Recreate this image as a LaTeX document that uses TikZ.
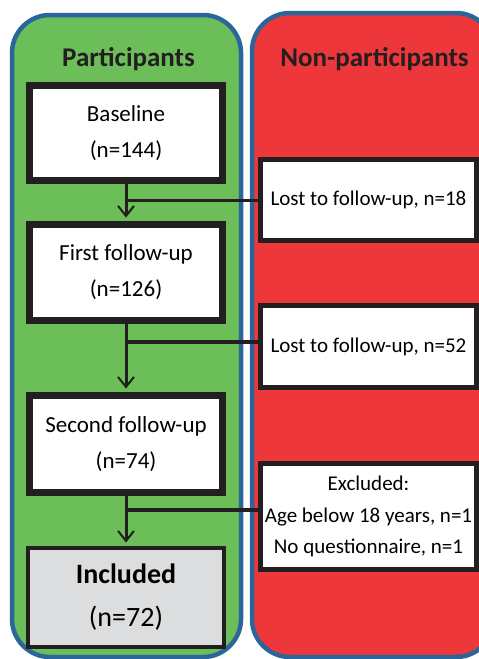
\documentclass[tikz,border=0pt]{standalone}
\usepackage{fontspec}
\setmainfont{Carlito}
\usetikzlibrary{arrows.meta}
\definecolor{pgreen}{HTML}{6CBE59}
\definecolor{pred}{HTML}{EE373B}
\definecolor{pblue}{HTML}{2A6699}
\definecolor{pgray}{HTML}{DCDDDE}
\definecolor{pblack}{HTML}{231F20}
\tikzset{
  panel/.style={draw=pblue, line width=4.5pt, rounded corners=38pt},
  mainbox/.style={draw=pblack, fill=white, line width=7pt, inner sep=0pt, align=center,
     minimum width=193pt, font=\fontsize{23}{36}\selectfont},
  sidebox/.style={draw=pblack, fill=white, line width=5pt, inner sep=0pt, align=center,
     minimum width=216pt, font=\fontsize{21}{31.5}\selectfont},
  header/.style={font=\bfseries\fontsize{27}{32}\selectfont, text=pblack, anchor=base},
  conn/.style={draw=pblack, line width=3pt, -{Straight Barb[length=10pt,width=16pt,line width=2pt]}, shorten >=3.5pt},
  link/.style={draw=pblack, line width=3.5pt}
}
\begin{document}
\begin{tikzpicture}[x=1pt,y=-1pt]
\useasboundingbox (0,0) rectangle (479,659);
\clip (0,0) rectangle (479,659);
\fill[white] (0,0) rectangle (479,659);
\draw[panel, fill=pgreen] (12,15) rectangle (241,657);
\draw[panel, fill=pred] (252,13) rectangle (494,657);
\node[header] (hp) at (128.5,66) {Participants};
\node[header] (hn) at (374.5,66) {Non-participants};

\node[mainbox, minimum height=95pt] (b0) at (126,133) {Baseline\\(n=144)};
\node[mainbox, minimum height=96pt] (b1) at (126,272.5) {First follow-up\\(n=126)};
\node[mainbox, minimum height=97pt] (b2) at (126,444) {Second follow-up\\(n=74)};
\node[draw=pblack, fill=pgray, line width=4pt, inner sep=0pt, align=center,
      minimum width=196pt, minimum height=99pt,
      font=\fontsize{28}{43}\selectfont] (b3) at (126,597.5) {\textbf{Included}\\(n=72)};

\node[sidebox, minimum height=81pt] (l1) at (368.5,200) {Lost to follow-up, n=18};
\node[sidebox, minimum height=82pt] (l2) at (368.5,346.5) {Lost to follow-up, n=52};
\node[sidebox, minimum height=106pt] (l3) at (368.5,516.5) {Excluded:\\Age below 18 years, n=1\\No questionnaire, n=1};

\draw[conn] (b0.south) -- (b1.north);
\draw[conn] (b1.south) -- (b2.north);
\draw[conn] (b2.south) -- (b3.north);

\coordinate (j1) at (126,200.5);
\coordinate (j2) at (126,342);
\coordinate (j3) at (126,510);
\draw[link] (j1) -- (j1 -| l1.west);
\draw[link] (j2) -- (j2 -| l2.west);
\draw[link] (j3) -- (j3 -| l3.west);
\end{tikzpicture}
\end{document}
